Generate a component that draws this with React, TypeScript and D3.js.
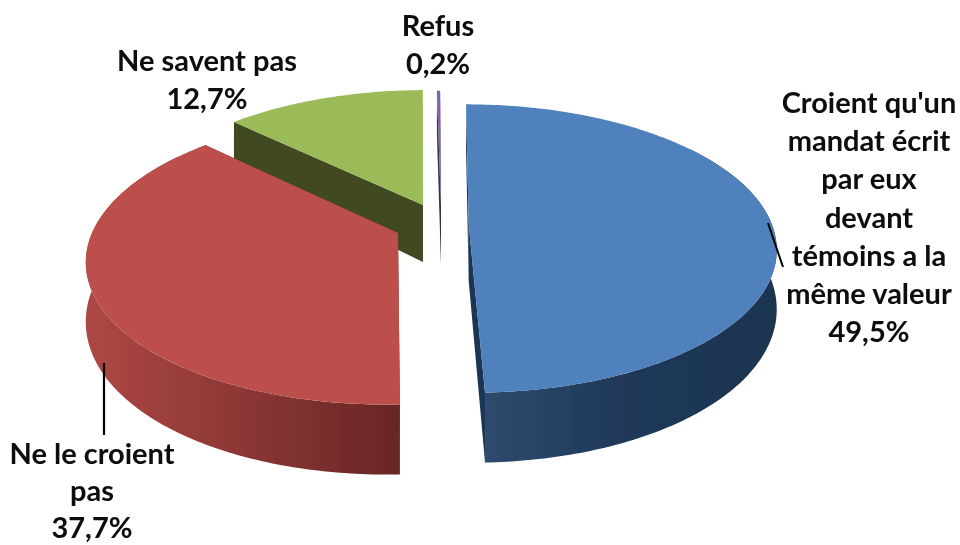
import React from "react";
import * as d3 from "d3";

const categories = ["Croient qu'un mandat écrit par eux devant témoins a la même valeur", "Ne le croient pas", "Ne savent pas", "Refus"];
const shares = [49.5, 37.7, 12.7, 0.2];
const shareLabels = ["49,5%", "37,7%", "12,7%", "0,2%"];
const labelLines = [
  ["Croient qu'un", "mandat écrit", "par eux", "devant", "témoins a la", "même valeur"],
  ["Ne le croient", "pas"],
  ["Ne savent pas"],
  ["Refus"],
];
const topColors = ["#4F81BD", "#BC4F4B", "#9BBB59", "#8064A2"];
const cutColors = ["#1C3654", "#6B2826", "#3F4A21", "#3A2D50"];

const W = 960, H = 545;
const TILT = 0.17;
const DEPTH_MID = 57, DEPTH_NEAR = 13;
// apex position, horizontal radius, vertical radius, skew of each exploded slice
const apexX = [468.7, 398, 423, 441];
const apexY = [224, 233, 205, 207];
const radX = [303, 306, 295, 300];
const radY = [140, 142.4, 134.5, 136];
const skew = [3.1, -9, -3.5, 1];
// label anchors: centre x and first baseline, line step
const labelX = [869, 92, 207, 438];
const labelY = [113, 464, 71, 36];
const lineStep = [38.2, 37, 38, 38];

const pie = d3.pie<number>().sort(null).startAngle(0).endAngle(2 * Math.PI);
const arcs = pie(shares);
const line = d3.line<[number, number]>();

function project(i: number, r: number, theta: number, drop: boolean): [number, number] {
  const u = r * Math.sin(theta);
  const v = -r * Math.cos(theta);
  const p = 1 / (1 - TILT * v);
  const x = apexX[i] + (radX[i] * u + skew[i] * v) * p;
  const y = apexY[i] + radY[i] * v * p + (drop ? DEPTH_MID + DEPTH_NEAR * v : 0);
  return [x, y];
}

function rimAngles(a0: number, a1: number): number[] {
  const n = Math.max(2, Math.ceil((a1 - a0) / 0.015));
  return d3.range(n + 1).map((k) => a0 + ((a1 - a0) * k) / n);
}

function topPath(i: number, a0: number, a1: number) {
  const pts = rimAngles(a0, a1).map((t) => project(i, 1, t, false));
  return line([project(i, 0, 0, false), ...pts]) + "Z";
}
function wallPath(i: number, a0: number, a1: number) {
  const as = rimAngles(a0, a1);
  const a = as.map((t) => project(i, 1, t, false));
  const b = as.map((t) => project(i, 1, t, true)).reverse();
  return line([...a, ...b]) + "Z";
}
function cutPath(i: number, t: number) {
  return line([project(i, 0, t, false), project(i, 1, t, false), project(i, 1, t, true), project(i, 0, t, true)]) + "Z";
}

const order = [2, 3, 0, 1];

export default function App() {
  return (
    <svg width={W} height={H} viewBox={`0 0 ${W} ${H}`} style={{ position: "absolute", left: 0, top: 0, background: "#fff" }}>
      <defs>
        <linearGradient id="wall0" gradientUnits="userSpaceOnUse" x1="485" x2="775" y1="0" y2="0">
          <stop offset="0" stopColor="#2E4A6E" />
          <stop offset="0.45" stopColor="#20395A" />
          <stop offset="1" stopColor="#1C3450" />
        </linearGradient>
        <linearGradient id="wall1" gradientUnits="userSpaceOnUse" x1="90" x2="400" y1="0" y2="0">
          <stop offset="0" stopColor="#AD4744" />
          <stop offset="1" stopColor="#682625" />
        </linearGradient>
        <filter id="soft" x="-5%" y="-5%" width="110%" height="110%">
          <feGaussianBlur stdDeviation="0.5" />
        </filter>
      </defs>
      <g filter="url(#soft)">
        {order.map((i) => {
          const a = arcs[i];
          const near0 = Math.max(a.startAngle, Math.PI * 0.3);
          const near1 = Math.min(a.endAngle, Math.PI * 1.7);
          return (
            <g key={categories[i]}>
              <path d={cutPath(i, a.startAngle)} fill={cutColors[i]} />
              <path d={cutPath(i, a.endAngle)} fill={cutColors[i]} />
              {near1 > near0 && <path d={wallPath(i, near0, near1)} fill={i < 2 ? `url(#wall${i})` : cutColors[i]} />}
              <path d={topPath(i, a.startAngle, a.endAngle)} fill={topColors[i]} />
            </g>
          );
        })}
        <line x1={768} y1={223} x2={783} y2={267} stroke="#000" strokeWidth={2} />
        <line x1={104} y1={363} x2={104} y2={435} stroke="#000" strokeWidth={2.2} />
        {categories.map((c, i) => {
          const rows = [...labelLines[i], shareLabels[i]];
          return (
            <text key={c} textAnchor="middle" fontFamily="Lato" fontWeight={700} fontSize={29} fill="#0a0a0a">
              {rows.map((r, k) => (
                <tspan key={k} x={labelX[i]} y={labelY[i] + k * lineStep[i]}>{r}</tspan>
              ))}
            </text>
          );
        })}
      </g>
    </svg>
  );
}
